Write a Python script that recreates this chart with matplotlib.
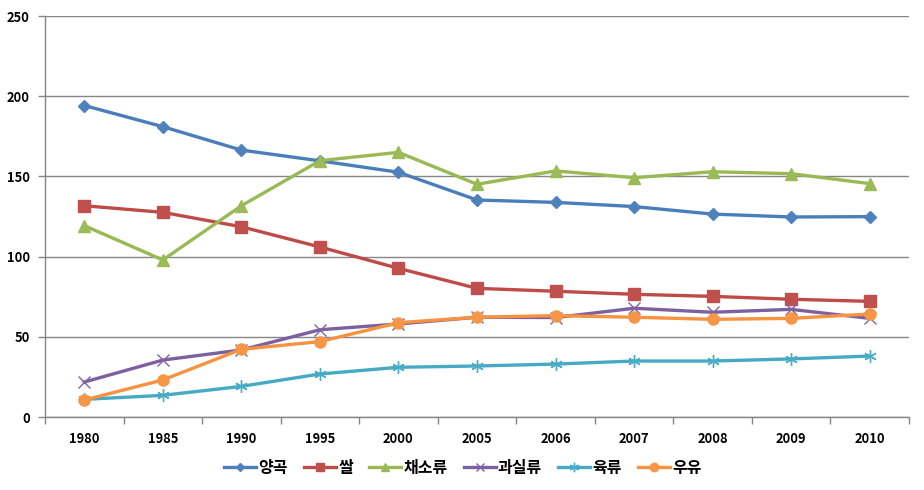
import matplotlib
matplotlib.use("Agg")
import matplotlib.pyplot as plt
from matplotlib.ticker import FixedLocator, NullFormatter

plt.rcParams['font.family'] = ['Noto Sans CJK KR', 'DejaVu Sans']

years = ['1980', '1985', '1990', '1995', '2000', '2005', '2006', '2007', '2008', '2009', '2010']
grain = [194.2, 181.0, 166.4, 159.7, 152.6, 135.3, 133.8, 131.2, 126.5, 124.7, 124.9]
rice = [131.7, 127.6, 118.6, 106.0, 92.7, 80.2, 78.4, 76.5, 75.2, 73.4, 72.1]
vegetables = [119.3, 97.9, 131.7, 159.8, 165.0, 145.1, 153.4, 149.2, 152.9, 151.7, 145.5]
fruits = [21.8, 35.5, 41.8, 54.4, 58.0, 62.2, 62.0, 67.8, 65.3, 67.1, 61.5]
meat = [11.0, 13.5, 19.1, 26.8, 31.0, 31.8, 33.0, 34.9, 34.9, 36.2, 38.0]
milk = [10.6, 23.1, 42.2, 47.0, 58.8, 62.2, 63.2, 62.2, 60.9, 61.5, 64.2]
series_names = ['양곡', '쌀', '채소류', '과실류', '육류', '우유']
y_ticks = [0, 50, 100, 150, 200, 250]

fig = plt.figure(figsize=(9.24, 4.90), dpi=100)
ax = fig.add_axes([45/924, (490-417)/490, (909-45)/924, 401/490])

x = list(range(len(years)))
styles = [
    dict(color='#4A7EBB', marker='D', ms=6, mfc='#4F81BD', mec='#4F81BD'),
    dict(color='#BE4B48', marker='s', ms=8, mfc='#C0504D', mec='#C0504D'),
    dict(color='#98B954', marker='^', ms=8, mfc='#9BBB59', mec='#9BBB59'),
    dict(color='#7D60A0', marker='x', ms=8, mfc='#8064A2', mec='#8064A2', mew=1.0),
    dict(color='#46AAC5', marker=(6, 2, 0), ms=9, mfc='#4BACC6', mec='#4BACC6', mew=1.0),
    dict(color='#F69240', marker='o', ms=8, mfc='#F79646', mec='#F79646'),
]
data = [grain, rice, vegetables, fruits, meat, milk]
for vals, name, st in zip(data, series_names, styles):
    ax.plot(x, vals, lw=2.4, label=name, zorder=3, **st)

ax.set_xlim(-0.5, len(years) - 0.5)
ax.set_ylim(0, 250)
ax.set_yticks(y_ticks)
ax.set_yticklabels([str(v) for v in y_ticks], fontsize=9.3, fontweight='bold')
ax.yaxis.grid(True, color='#868686', lw=1.0)
ax.set_axisbelow(True)

ax.set_xticks(x)
ax.set_xticklabels(years, fontsize=9.3, fontweight='bold')
ax.tick_params(axis='x', which='major', length=0, pad=11)
ax.xaxis.set_minor_locator(FixedLocator([i - 0.5 for i in range(len(years) + 1)]))
ax.xaxis.set_minor_formatter(NullFormatter())
ax.tick_params(axis='x', which='minor', length=5, color='#868686', width=1.0)
ax.tick_params(axis='y', length=5, color='#868686', width=1.0, pad=6)

for s in ['top', 'right']:
    ax.spines[s].set_visible(False)
for s in ['left', 'bottom']:
    ax.spines[s].set_color('#868686')
    ax.spines[s].set_linewidth(1.0)

leg = fig.legend(loc='center', bbox_to_anchor=(463/924, 1 - 468/490), ncol=6, frameon=False,
                 prop={'size': 11.5, 'weight': 'bold'}, handlelength=2.0, handletextpad=0.15,
                 columnspacing=1.0, markerscale=0.75)

fig.savefig('out.png', dpi=100, facecolor='white')
